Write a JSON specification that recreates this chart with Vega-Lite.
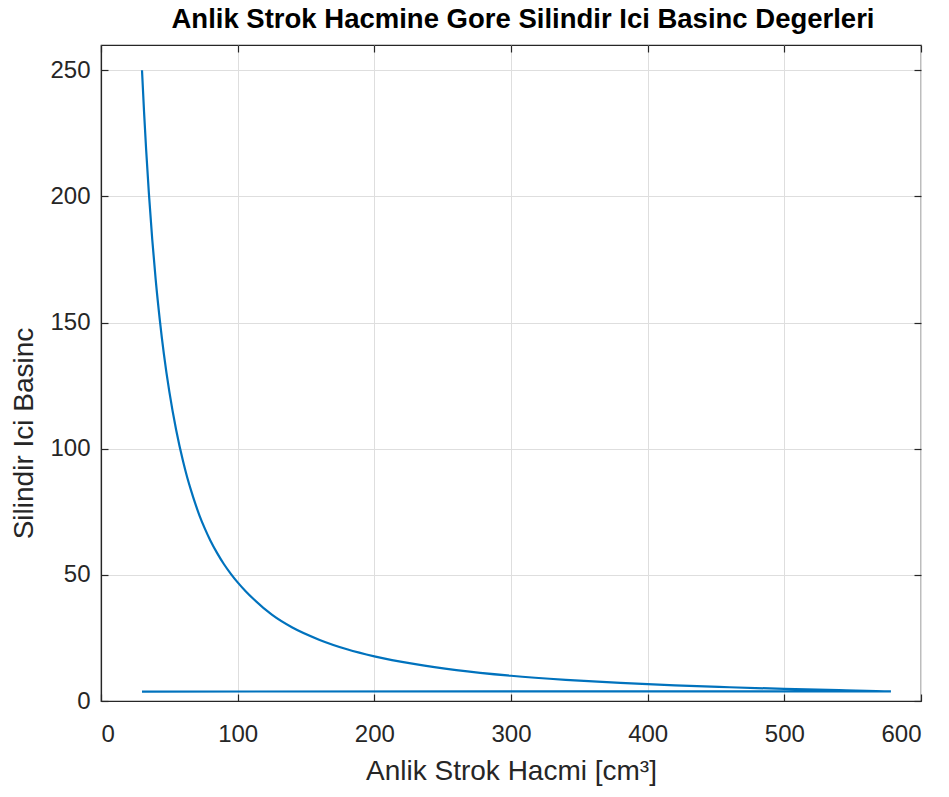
{
  "$schema": "https://vega.github.io/schema/vega-lite/v6.json",
  "width": 820,
  "height": 656,
  "autosize": {"type": "none"},
  "padding": {"left": 101, "top": 45, "right": 28, "bottom": 96},
  "background": "white",
  "title": {
    "text": "Anlik Strok Hacmine Gore Silindir Ici Basinc Degerleri",
    "font": "Liberation Sans",
    "fontSize": 27.5,
    "fontWeight": "bold",
    "color": "#000000",
    "anchor": "middle",
    "dx": 12,
    "offset": 11
  },
  "config": {
    "view": {"stroke": "#262626", "strokeWidth": 1.2},
    "axis": {
      "domainColor": "#262626",
      "domainWidth": 1.2,
      "tickColor": "#262626",
      "tickWidth": 1.2,
      "gridColor": "#DEDEDE",
      "gridWidth": 1,
      "labelFont": "Liberation Sans",
      "labelFontSize": 24,
      "labelColor": "#262626",
      "titleFont": "Liberation Sans",
      "titleFontSize": 28,
      "titleFontWeight": "normal",
      "titleColor": "#262626"
    }
  },
  "data": {
    "values": [
      {"i": 1, "V": 30, "P": 250},
      {"i": 2, "V": 31.5, "P": 233.5},
      {"i": 3, "V": 33, "P": 218.8},
      {"i": 4, "V": 35, "P": 201.5},
      {"i": 5, "V": 37.5, "P": 182.9},
      {"i": 6, "V": 40, "P": 167.1},
      {"i": 7, "V": 43, "P": 151.2},
      {"i": 8, "V": 46, "P": 137.6},
      {"i": 9, "V": 50, "P": 122.6},
      {"i": 10, "V": 55, "P": 107.4},
      {"i": 11, "V": 60, "P": 95.1},
      {"i": 12, "V": 63, "P": 88.8},
      {"i": 13, "V": 66, "P": 83.3},
      {"i": 14, "V": 69, "P": 78.2},
      {"i": 15, "V": 72, "P": 73.6},
      {"i": 16, "V": 76, "P": 68.3},
      {"i": 17, "V": 80, "P": 63.6},
      {"i": 18, "V": 85, "P": 58.6},
      {"i": 19, "V": 90, "P": 54.2},
      {"i": 20, "V": 95, "P": 50.4},
      {"i": 21, "V": 100, "P": 47.0},
      {"i": 22, "V": 106, "P": 43.4},
      {"i": 23, "V": 112, "P": 40.2},
      {"i": 24, "V": 125, "P": 34.2},
      {"i": 25, "V": 140, "P": 29.1},
      {"i": 26, "V": 160, "P": 24.2},
      {"i": 27, "V": 180, "P": 20.5},
      {"i": 28, "V": 200, "P": 17.7},
      {"i": 29, "V": 230, "P": 14.6},
      {"i": 30, "V": 260, "P": 12.25},
      {"i": 31, "V": 300, "P": 10.0},
      {"i": 32, "V": 340, "P": 8.38},
      {"i": 33, "V": 380, "P": 7.15},
      {"i": 34, "V": 420, "P": 6.2},
      {"i": 35, "V": 460, "P": 5.45},
      {"i": 36, "V": 500, "P": 4.8},
      {"i": 37, "V": 540, "P": 4.3},
      {"i": 38, "V": 578, "P": 3.85},
      {"i": 39, "V": 30, "P": 3.75}
    ]
  },
  "resolve": {"axis": {"x": "independent", "y": "independent"}},
  "layer": [
    {
      "mark": {"type": "line", "color": "#0072BD", "strokeWidth": 2.2, "interpolate": "monotone"},
      "encoding": {
        "order": {"field": "i", "type": "quantitative"},
        "x": {
          "field": "V",
          "type": "quantitative",
          "scale": {"domain": [0, 600], "nice": false, "zero": false},
          "axis": {
            "orient": "bottom",
            "values": [0, 100, 200, 300, 400, 500, 600],
            "title": "Anlik Strok Hacmi [cm³]",
            "tickSize": -7,
            "labelPadding": 28,
            "titlePadding": 11
          }
        },
        "y": {
          "field": "P",
          "type": "quantitative",
          "scale": {"domain": [0, 260], "nice": false, "zero": false},
          "axis": {
            "orient": "left",
            "values": [0, 50, 100, 150, 200, 250],
            "title": "Silindir Ici Basinc",
            "titleY": 388,
            "tickSize": -7,
            "labelPadding": 18,
            "titlePadding": 11
          }
        }
      }
    },
    {
      "mark": {"type": "line", "strokeOpacity": 0},
      "encoding": {
        "order": {"field": "i", "type": "quantitative"},
        "x": {
          "field": "V",
          "type": "quantitative",
          "axis": {
            "orient": "top",
            "values": [0, 100, 200, 300, 400, 500, 600],
            "labels": false,
            "grid": false,
            "domain": false,
            "title": null,
            "tickSize": -7
          }
        },
        "y": {
          "field": "P",
          "type": "quantitative",
          "axis": {
            "orient": "right",
            "values": [0, 50, 100, 150, 200, 250],
            "labels": false,
            "grid": false,
            "domain": false,
            "title": null,
            "tickSize": -7
          }
        }
      }
    }
  ]
}
